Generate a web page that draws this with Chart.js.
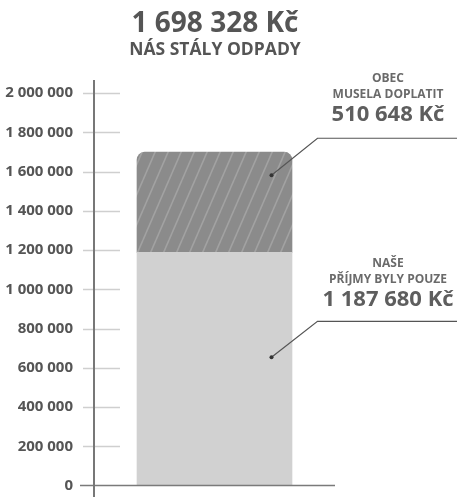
<!DOCTYPE html>
<html>
<head>
<meta charset="utf-8">
<script src="https://cdn.jsdelivr.net/npm/chart.js@4"></script>
<style>
    html, body { margin: 0; padding: 0; background: #fff; }
    #wrap { width: 457px; height: 497px; }
</style>
</head>
<body>
<div id="wrap"><canvas id="odpadyChart" width="457" height="497"></canvas></div>
<script>
// data
const categories = ['Odpady'];
const prijmy = [1187680];
const doplatek = [510648];
const tickValues = [0, 200000, 400000, 600000, 800000, 1000000, 1200000, 1400000, 1600000, 1800000, 2000000];

const titleText = '1 698 328 Kč';
const subtitleText = 'NÁS STÁLY ODPADY';
const topLabel = ['OBEC', 'MUSELA DOPLATIT', '510 648 Kč'];
const bottomLabel = ['NAŠE', 'PŘÍJMY BYLY POUZE', '1 187 680 Kč'];

const font = '"Open Sans", "DejaVu Sans", sans-serif';

// hatched fill for the top segment
function makeHatch() {
    const c = document.createElement('canvas');
    c.width = 13;
    c.height = 30;
    const p = c.getContext('2d');
    p.fillStyle = '#8b8b8b';
    p.fillRect(0, 0, 13, 30);
    p.strokeStyle = '#a2a2a2';
    p.lineWidth = 1.6;
    [-13, 0, 13].forEach(function(off) {
        p.beginPath();
        p.moveTo(off, 30);
        p.lineTo(off + 13, 0);
        p.stroke();
    });
    return p.createPattern(c, 'repeat');
}

const ctx = document.getElementById('odpadyChart').getContext('2d');

// axis line, tick marks, titles and callouts
const decoPlugin = {
    id: 'deco',
    afterDraw(chart) {
        const c = chart.ctx;
        const y = chart.scales.y;
        const area = chart.chartArea;
        const bar = chart.getDatasetMeta(1).data[0];
        c.save();

        // tick marks
        c.strokeStyle = '#cfcfcf';
        c.lineWidth = 1.5;
        tickValues.forEach(function(v) {
            if (v === 0) return;
            const py = Math.round(y.getPixelForValue(v)) + 0.5;
            c.beginPath();
            c.moveTo(area.left - 11, py);
            c.lineTo(area.left + 26, py);
            c.stroke();
        });

        // baseline
        c.strokeStyle = '#7a7a7a';
        c.lineWidth = 1.5;
        const by = y.getPixelForValue(0);
        c.beginPath();
        c.moveTo(area.left - 14, by);
        c.lineTo(area.right, by);
        c.stroke();

        // vertical axis
        c.strokeStyle = '#777';
        c.lineWidth = 2;
        c.beginPath();
        c.moveTo(area.left, y.getPixelForValue(2000000) - 13);
        c.lineTo(area.left, chart.height);
        c.stroke();

        // title
        c.fillStyle = '#555';
        c.textAlign = 'center';
        c.textBaseline = 'alphabetic';
        c.font = 'bold 28px ' + font;
        c.fillText(titleText, 215, 32);
        c.font = 'bold 17.5px ' + font;
        c.fillText(subtitleText, 215, 55);

        // callouts
        function callout(lines, cx, topY, dot, elbow) {
            c.fillStyle = '#6a6a6a';
            c.font = 'bold 12px ' + font;
            c.fillText(lines[0], cx, topY);
            c.fillText(lines[1], cx, topY + 16);
            c.fillStyle = '#5e5e5e';
            c.font = 'bold 22px ' + font;
            c.fillText(lines[2], cx, topY + 39);

            c.strokeStyle = '#555';
            c.lineWidth = 1.2;
            c.beginPath();
            c.moveTo(dot.x, dot.y);
            c.lineTo(elbow.x, elbow.y);
            c.lineTo(chart.width, elbow.y);
            c.stroke();
            c.fillStyle = '#333';
            c.beginPath();
            c.arc(dot.x, dot.y, 2, 0, Math.PI * 2);
            c.fill();
        }

        const dotX = bar.x + 57;
        const topDotY = y.getPixelForValue(prijmy[0] + doplatek[0] * 0.77);
        const botDotY = y.getPixelForValue(prijmy[0] * 0.55);
        callout(topLabel, 388, 82, {x: dotX, y: topDotY}, {x: dotX + 46, y: topDotY - 37});
        callout(bottomLabel, 388, 267, {x: dotX, y: botDotY}, {x: dotX + 46, y: botDotY - 36});

        c.restore();
    }
};

const myChart = new Chart(ctx, {
    type: 'bar',
    data: {
        labels: categories,
        datasets: [{
            label: 'Naše příjmy',
            data: prijmy,
            backgroundColor: '#d1d1d1',
            borderWidth: 0,
            barThickness: 155
        }, {
            label: 'Obec musela doplatit',
            data: doplatek,
            backgroundColor: makeHatch(),
            borderWidth: 0,
            borderSkipped: false,
            borderRadius: {topLeft: 8, topRight: 8, bottomLeft: 0, bottomRight: 0},
            barThickness: 155
        }]
    },
    options: {
        responsive: false,
        animation: false,
        layout: {
            padding: {top: 93, bottom: 11.5, left: 0, right: 122}
        },
        plugins: {
            legend: {display: false},
            tooltip: {enabled: false}
        },
        scales: {
            x: {
                stacked: true,
                display: false
            },
            y: {
                stacked: true,
                min: 0,
                max: 2000000,
                afterFit(scale) {
                    scale.width = 94;
                    scale.paddingTop = 0;
                    scale.paddingBottom = 0;
                },
                afterBuildTicks(scale) {
                    scale.ticks = tickValues.map(v => ({value: v}));
                },
                grid: {display: false, drawTicks: false},
                border: {display: false},
                ticks: {
                    padding: 21,
                    color: '#555',
                    font: {family: font, size: 15, weight: 'bold'},
                    callback: function(value) {
                        return String(value).replace(/\B(?=(\d{3})+(?!\d))/g, ' ');
                    }
                }
            }
        }
    },
    plugins: [decoPlugin]
});
</script>
</body>
</html>
